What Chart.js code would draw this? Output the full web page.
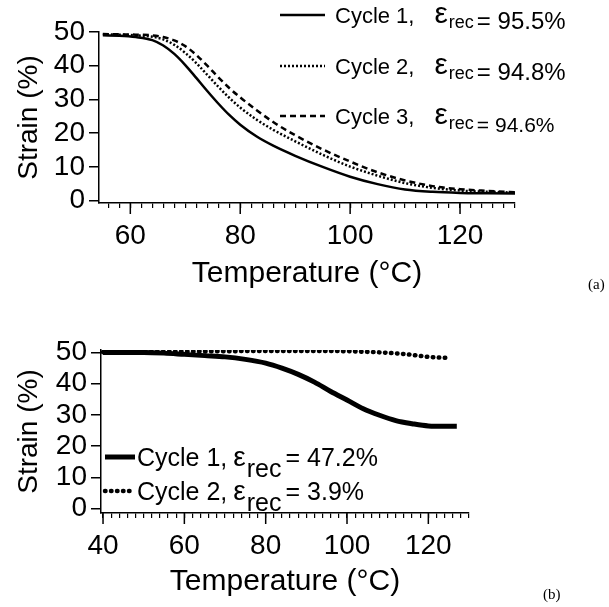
<!DOCTYPE html>
<html>
<head>
<meta charset="utf-8">
<script src="https://cdn.jsdelivr.net/npm/chart.js@4"></script>
<style>
  body { margin: 0; background: #fff; width: 609px; height: 607px; position: relative; overflow: hidden; }
  .box { position: absolute; left: 0; width: 609px; }
  #topBox { top: 0; height: 300px; }
  #bottomBox { top: 300px; height: 307px; }
  .tag { position: absolute; font-family: "Liberation Serif", "Times New Roman", serif; font-size: 15px; color: #000; }
</style>
</head>
<body>
<div id="topBox" class="box"><canvas id="chartA"></canvas></div>
<div id="bottomBox" class="box"><canvas id="chartB"></canvas></div>
<div class="tag" style="left:588px; top:276px;">(a)</div>
<div class="tag" style="left:543px; top:586px;">(b)</div>
<script>
const FONT = "'Liberation Sans', Arial, sans-serif";

// (a) three recovery cycles
const tempA = [55, 58, 61, 64, 66, 68, 70, 72, 74, 76, 78, 80, 83, 86, 90, 95, 100, 105, 110, 115, 120, 125, 130];
const cycle1A = [49.0, 48.9, 48.5, 47.6, 46.0, 43.5, 40.2, 36.4, 32.5, 28.8, 25.4, 22.5, 19.0, 16.3, 13.3, 10.0, 7.1, 4.9, 3.3, 2.6, 2.3, 2.2, 2.1];
const cycle2A = [49.3, 49.2, 49.0, 48.6, 47.8, 46.2, 43.8, 40.8, 37.3, 33.8, 30.5, 27.6, 24.0, 21.0, 17.6, 13.6, 10.1, 7.4, 5.2, 3.8, 3.0, 2.6, 2.4];
const cycle3A = [49.4, 49.3, 49.2, 49.0, 48.5, 47.5, 45.8, 43.2, 40.0, 36.6, 33.4, 30.6, 26.8, 23.3, 19.4, 15.2, 11.6, 8.4, 6.0, 4.3, 3.4, 2.9, 2.5];
const labelsA = ['Cycle 1', 'Cycle 2', 'Cycle 3'];
const recoveryA = [95.5, 94.8, 94.6];

// (b) two cycles
const tempB1 = [40, 45, 50, 55, 60, 65, 70, 75, 80, 84, 88, 92, 96, 100, 104, 108, 112, 116, 120, 124, 127];
const cycle1B = [50.0, 50.0, 50.0, 49.8, 49.4, 49.0, 48.6, 47.8, 46.6, 45.0, 43.0, 40.5, 37.5, 34.8, 32.0, 29.9, 28.2, 27.2, 26.5, 26.4, 26.4];
const tempB2 = [40, 50, 60, 70, 80, 90, 95, 100, 105, 110, 115, 120, 125.5];
const cycle2B = [50.1, 50.2, 50.3, 50.4, 50.5, 50.5, 50.5, 50.4, 50.2, 49.9, 49.4, 48.6, 48.2];
const labelsB = ['Cycle 1', 'Cycle 2'];
const recoveryB = [47.2, 3.9];

const yTicks = [0, 10, 20, 30, 40, 50];
const xLabelsA = [60, 80, 100, 120];
const xLabelsB = [40, 60, 80, 100, 120];

function points(xs, ys) {
    return xs.map((x, i) => ({ x: x, y: ys[i] }));
}

// minor tick every 2 degrees
function minorTicks(scale) {
    const ticks = [];
    for (let v = Math.ceil(scale.min / 2) * 2; v <= scale.max + 1e-9; v += 2) ticks.push({ value: v });
    scale.ticks = ticks;
}

// longer tick marks at the labelled temperatures
const majorTicks = {
    id: 'majorTicks',
    afterDraw(chart, args, o) {
        const x = chart.scales.x, ctx = chart.ctx;
        ctx.save();
        ctx.strokeStyle = '#000';
        ctx.lineWidth = 1.5;
        o.values.forEach(v => {
            const px = x.getPixelForValue(v);
            ctx.beginPath();
            ctx.moveTo(px, x.top);
            ctx.lineTo(px, x.top + o.length);
            ctx.stroke();
        });
        ctx.restore();
    }
};

// legend with the epsilon_rec subscript
const mathLegend = {
    id: 'mathLegend',
    afterDraw(chart, args, o) {
        const ctx = chart.ctx;
        chart.data.datasets.forEach((ds, i) => {
            const y = o.rows[i];
            ctx.save();
            ctx.strokeStyle = '#000';
            ctx.lineWidth = ds.borderWidth;
            ctx.lineCap = ds.borderCapStyle || 'butt';
            ctx.setLineDash(ds.borderDash || []);
            ctx.beginPath();
            ctx.moveTo(o.lineX[0], y);
            ctx.lineTo(o.lineX[1], y);
            ctx.stroke();
            ctx.setLineDash([]);
            ctx.fillStyle = '#000';
            ctx.textBaseline = 'alphabetic';
            const base = y + o.baseShift;
            let x = o.textX;
            const head = ds.label + ',';
            ctx.font = o.size + 'px ' + FONT;
            ctx.fillText(head, x, base);
            x += ctx.measureText(head).width + o.gap;
            ctx.font = o.epsSize + 'px ' + FONT;
            ctx.fillText('ε', x, base);
            x += ctx.measureText('ε').width + 1;
            ctx.font = o.subSize + 'px ' + FONT;
            ctx.fillText('rec', x, base + o.subDrop);
            x += ctx.measureText('rec').width + o.gap2;
            ctx.font = o.valSize[i] + 'px ' + FONT;
            ctx.fillText('= ' + o.recovery[i] + '%', x, base + o.valDrop[i]);
            ctx.restore();
        });
    }
};

function yScale(min, max, width) {
    return {
        min: min, max: max,
        afterBuildTicks: s => { s.ticks = yTicks.map(v => ({ value: v })); },
        afterFit: s => { s.width = width; },
        border: { color: '#000', width: 1.5 },
        grid: { drawOnChartArea: false, tickLength: 10, color: '#000', lineWidth: 1.5 },
        ticks: { color: '#000', font: { family: FONT, size: 28 }, padding: 4, autoSkip: false },
        title: { display: true, text: 'Strain (%)', color: '#000', font: { family: FONT, size: 28 }, padding: { top: 12, bottom: 0 } }
    };
}

function xScale(min, max, height, labels, titlePad) {
    return {
        type: 'linear', min: min, max: max,
        afterBuildTicks: minorTicks,
        afterFit: s => { s.height = height; },
        border: { color: '#000', width: 1.5 },
        grid: { drawOnChartArea: false, tickLength: 5, color: '#000', lineWidth: 1.2 },
        ticks: {
            color: '#000', font: { family: FONT, size: 28 }, autoSkip: false, maxRotation: 0, padding: 11,
            callback: v => labels.includes(v) ? v : ''
        },
        title: { display: true, text: 'Temperature (°C)', color: '#000', font: { family: FONT, size: 30 }, padding: { top: 0, bottom: titlePad } }
    };
}

function line(label, xs, ys, width, dash, cap) {
    return {
        label: label,
        data: points(xs, ys),
        borderColor: '#000',
        borderWidth: width,
        borderDash: dash,
        borderCapStyle: cap,
        pointRadius: 0,
        fill: false,
        cubicInterpolationMode: 'monotone'
    };
}

new Chart(document.getElementById('chartA'), {
    type: 'line',
    data: {
        datasets: [
            line(labelsA[0], tempA, cycle1A, 2.5, [], 'butt'),
            line(labelsA[1], tempA, cycle2A, 2.5, [2, 2], 'butt'),
            line(labelsA[2], tempA, cycle3A, 2.5, [6, 4], 'butt')
        ]
    },
    options: {
        responsive: true,
        maintainAspectRatio: false,
        animation: false,
        layout: { padding: { left: 0, top: 32, right: 94, bottom: 0 } },
        scales: { x: xScale(54.3, 130, 97, xLabelsA, 8), y: yScale(-0.7, 50, 99) },
        plugins: {
            legend: { display: false },
            tooltip: { enabled: false },
            majorTicks: { values: xLabelsA, length: 11 },
            mathLegend: {
                rows: [15, 66, 116], lineX: [280, 325], textX: 335, baseShift: 8,
                size: 22, epsSize: 30, subSize: 18, subDrop: 5, gap: 20, gap2: 3,
                valSize: [24, 24, 21], valDrop: [6, 6, 8], recovery: recoveryA
            }
        }
    },
    plugins: [majorTicks, mathLegend]
});

new Chart(document.getElementById('chartB'), {
    type: 'line',
    data: {
        datasets: [
            line(labelsB[0], tempB1, cycle1B, 5, [], 'butt'),
            line(labelsB[1], tempB2, cycle2B, 4.5, [0.5, 5.5], 'round')
        ]
    },
    options: {
        responsive: true,
        maintainAspectRatio: false,
        animation: false,
        layout: { padding: { left: 0, top: 50, right: 140, bottom: 0 } },
        scales: { x: xScale(39.5, 130, 94, xLabelsB, 7), y: yScale(-1.4, 50.8, 101) },
        plugins: {
            legend: { display: false },
            tooltip: { enabled: false },
            majorTicks: { values: xLabelsB, length: 11 },
            mathLegend: {
                rows: [157, 191], lineX: [105, 135], textX: 137, baseShift: 9,
                size: 25, epsSize: 28, subSize: 25, subDrop: 11, gap: 6, gap2: 4,
                valSize: [25, 25], valDrop: [0, 0], recovery: recoveryB
            }
        }
    },
    plugins: [majorTicks, mathLegend]
});
</script>
</body>
</html>
